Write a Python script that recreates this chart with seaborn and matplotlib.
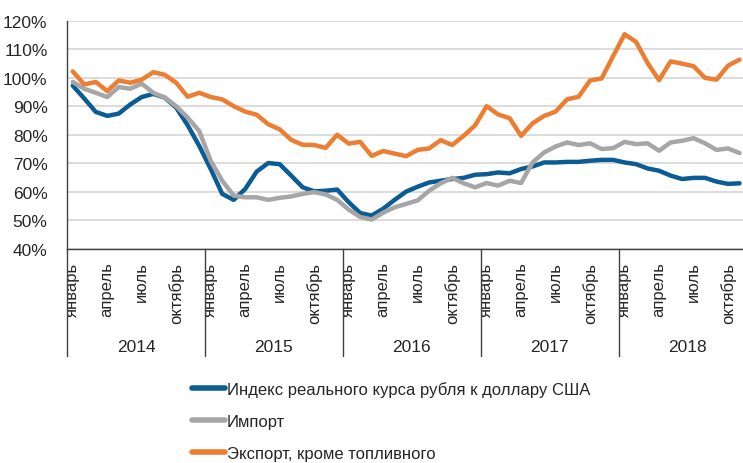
import numpy as np
import pandas as pd
import matplotlib
matplotlib.use("Agg")
import matplotlib.pyplot as plt
import matplotlib.transforms as mtransforms
from matplotlib.lines import Line2D
import seaborn as sns

# monthly values, Jan 2014 .. Nov 2018, % of base
years = [2014, 2015, 2016, 2017, 2018]
month_labels = ["январь", "апрель", "июль", "октябрь"]
series_names = ["Индекс реального курса рубля к доллару США",
                "Импорт",
                "Экспорт, кроме топливного"]

rate_index = [97.2, 92.7, 88.0, 86.6, 87.4, 90.6, 93.2, 94.3, 93.0, 89.5, 83.3, 76.1,
              68.0, 59.3, 57.2, 61.0, 67.1, 70.1, 69.7, 65.7, 61.6, 60.2, 60.4, 60.8,
              56.4, 52.6, 51.7, 54.1, 57.2, 60.1, 61.8, 63.3, 63.9, 64.5, 64.9, 66.0,
              66.2, 66.8, 66.5, 68.0, 68.9, 70.3, 70.3, 70.5, 70.5, 70.9, 71.2, 71.2,
              70.3, 69.7, 68.2, 67.4, 65.7, 64.5, 64.9, 64.9, 63.6, 62.8, 63.0]
imports = [98.5, 96.1, 94.7, 93.2, 96.7, 96.1, 97.9, 94.7, 93.0, 90.0, 86.0, 81.3,
           70.9, 63.9, 58.7, 58.1, 58.1, 57.2, 57.9, 58.4, 59.3, 59.9, 59.1, 57.2,
           53.8, 51.2, 50.3, 52.7, 54.6, 55.8, 57.0, 60.4, 63.0, 64.9, 63.0, 61.6,
           63.1, 62.2, 63.9, 63.1, 70.3, 73.8, 75.9, 77.3, 76.4, 77.0, 75.0, 75.3,
           77.5, 76.7, 77.0, 74.4, 77.3, 77.9, 78.8, 77.0, 74.7, 75.2, 73.6]
exports = [102.2, 97.6, 98.5, 95.3, 99.0, 98.2, 99.3, 101.9, 101.0, 98.2, 93.3, 94.7,
           93.2, 92.4, 90.0, 88.1, 87.0, 83.7, 81.9, 78.2, 76.5, 76.4, 75.4, 80.0,
           76.9, 77.5, 72.6, 74.3, 73.4, 72.5, 74.7, 75.2, 78.1, 76.4, 79.6, 83.3,
           90.0, 87.1, 85.8, 79.6, 84.0, 86.6, 88.1, 92.4, 93.3, 99.0, 99.7, 107.5,
           115.2, 112.5, 105.1, 99.1, 105.7, 104.9, 104.0, 99.9, 99.3, 104.2, 106.3]

colors = ["#0b5c94", "#a6a6a6", "#ed7d31"]

n = len(rate_index)
df = pd.DataFrame({
    "month": np.tile(np.arange(n), 3),
    "value": rate_index + imports + exports,
    "series": np.repeat(series_names, n),
})

sns.set_style("white")
plt.rcParams["font.family"] = ["Liberation Sans", "DejaVu Sans"]

fig = plt.figure(figsize=(7.43, 4.64), dpi=100)
ax = fig.add_axes([67 / 743, 1 - 250 / 464, (743 - 67) / 743, (250 - 21.5) / 464])

sns.lineplot(data=df, x="month", y="value", hue="series", hue_order=series_names,
             palette=dict(zip(series_names, colors)), linewidth=3.2,
             solid_joinstyle="round", solid_capstyle="round", legend=False, ax=ax)

ax.set_ylim(40, 120)
ax.set_xlim(-0.5, 58.3)
ax.set_yticks(range(40, 121, 10))
ax.set_yticklabels([f"{v}%" for v in range(40, 121, 10)], fontsize=12.5, color="#262626")
ax.yaxis.grid(True, color="#d9d9d9", linewidth=1.3)
ax.xaxis.grid(False)
ax.set_axisbelow(True)
ax.tick_params(axis="y", length=0, pad=14)
ax.set_xlabel("")
ax.set_ylabel("")
for s in ["top", "right"]:
    ax.spines[s].set_visible(False)
for s in ["left", "bottom"]:
    ax.spines[s].set_color("#404040")
    ax.spines[s].set_linewidth(1.0)

# month labels
ticks = [12 * k + m for k in range(len(years)) for m in (0, 3, 6, 9)]
ax.set_xticks(ticks)
ax.set_xticklabels(month_labels * len(years), rotation=90, fontsize=12,
                   color="#262626", va="top", ha="center")
ax.tick_params(axis="x", length=0, pad=9)

# year labels and group separators
trans = mtransforms.blended_transform_factory(ax.transData, ax.transAxes)
ax_h = 250 - 21.5
for k, yr in enumerate(years):
    ax.text(12 * k + 5.5, -(347 - 250) / ax_h, str(yr), transform=trans,
            ha="center", va="center", fontsize=12.5, color="#262626")
for k in range(len(years)):
    ax.plot([12 * k - 0.5] * 2, [0, -(357 - 250) / ax_h], transform=trans,
            color="#404040", linewidth=1.0, clip_on=False)

handles = [Line2D([0], [0], color=c, linewidth=4, solid_capstyle="round") for c in colors]
fig.legend(handles, series_names, loc="upper left", bbox_to_anchor=(192 / 743, 1 - 382 / 464),
           frameon=False, fontsize=12, handlelength=2.0, handletextpad=0.1,
           labelspacing=1.02, borderpad=0, borderaxespad=0, labelcolor="#262626")

fig.savefig("out.png", dpi=100)
